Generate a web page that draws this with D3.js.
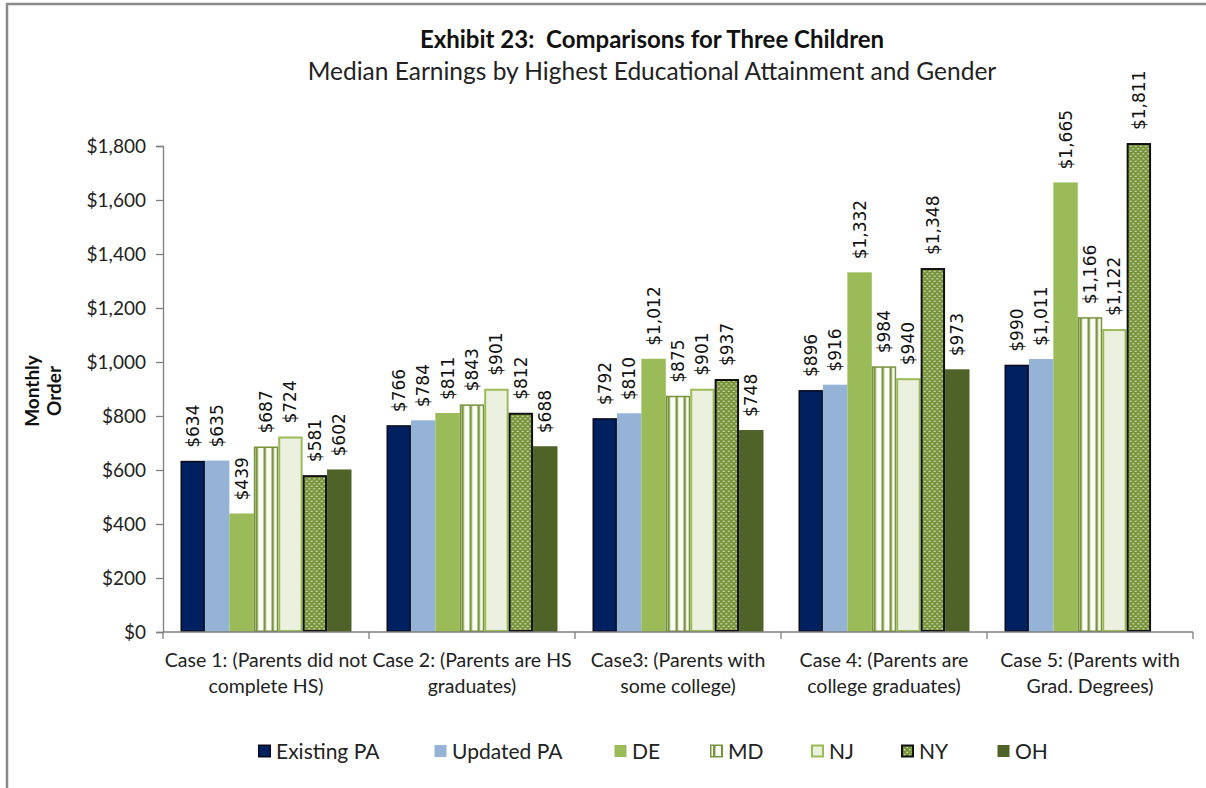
<!DOCTYPE html>
<html>
<head>
<meta charset="utf-8">
<script src="https://cdn.jsdelivr.net/npm/d3@7/dist/d3.min.js"></script>
<style>
  html, body { margin: 0; padding: 0; background: #fff; }
  svg { display: block; }
</style>
</head>
<body>
<svg id="chart" width="1206" height="788"></svg>
<script>
// Categories (two-line axis labels)
const categories = ["case1", "case2", "case3", "case4", "case5"];
const categoryLines = [
  ["Case 1: (Parents did not", "complete HS)"],
  ["Case 2: (Parents are HS", "graduates)"],
  ["Case3: (Parents with", "some college)"],
  ["Case 4: (Parents are", "college graduates)"],
  ["Case 5: (Parents with", "Grad. Degrees)"]
];
const seriesNames = ["Existing PA", "Updated PA", "DE", "MD", "NJ", "NY", "OH"];

// Monthly order values per series, one entry per case (null = no value)
const existingPA = [634, 766, 792, 896, 990];
const updatedPA  = [635, 784, 810, 916, 1011];
const de         = [439, 811, 1012, 1332, 1665];
const md         = [687, 843, 875, 984, 1166];
const nj         = [724, 901, 901, 940, 1122];
const ny         = [581, 812, 937, 1348, 1811];
const oh         = [602, 688, 748, 973, null];

const yTicks = [0, 200, 400, 600, 800, 1000, 1200, 1400, 1600, 1800];

const seriesValues = [existingPA, updatedPA, de, md, nj, ny, oh];

const svg = d3.select("#chart");
const W = 1206, H = 788;
const FONT = "Lato, 'Open Sans', sans-serif";

// outer frame
svg.append("rect").attr("x", 7).attr("y", 4).attr("width", W + 20).attr("height", H + 20)
  .attr("fill", "#fff").attr("stroke", "#8a8a8a").attr("stroke-width", 2.5);

// fill patterns
const defs = svg.append("defs");
const mdPat = defs.append("pattern").attr("id", "pat-md").attr("patternUnits", "userSpaceOnUse")
  .attr("width", 8).attr("height", 8);
mdPat.append("rect").attr("width", 8).attr("height", 8).attr("fill", "#fbfdf6");
mdPat.append("rect").attr("x", 3).attr("width", 2.4).attr("height", 8).attr("fill", "#77933c");

const nyPat = defs.append("pattern").attr("id", "pat-ny").attr("patternUnits", "userSpaceOnUse")
  .attr("width", 5).attr("height", 5);
nyPat.append("rect").attr("width", 5).attr("height", 5).attr("fill", "#77933c");
nyPat.append("circle").attr("cx", 1.25).attr("cy", 1.25).attr("r", 0.85).attr("fill", "#dfeac6");
nyPat.append("circle").attr("cx", 3.75).attr("cy", 3.75).attr("r", 0.85).attr("fill", "#dfeac6");

const styles = [
  { fill: "#002060", stroke: "#0a0a1a", sw: 1.5 },
  { fill: "#95b3d7", stroke: "none", sw: 0 },
  { fill: "#9bbb59", stroke: "none", sw: 0 },
  { fill: "url(#pat-md)", stroke: "#77933c", sw: 1.5 },
  { fill: "#ebf1de", stroke: "#9bbb59", sw: 2 },
  { fill: "url(#pat-ny)", stroke: "#111", sw: 2 },
  { fill: "#4f6228", stroke: "none", sw: 0 }
];

// layout
const plot = { left: 163, right: 1193, top: 146, bottom: 632 };

const x0 = d3.scaleBand().domain(categories).range([plot.left, plot.right])
  .paddingInner(0.17).paddingOuter(0.085);
const x1 = d3.scaleBand().domain(seriesNames).range([0, x0.bandwidth()]).padding(0);
const y = d3.scaleLinear().domain([0, 1800]).range([plot.bottom, plot.top]);

// title
svg.append("text").attr("x", 652).attr("y", 48).attr("text-anchor", "middle")
  .attr("font-family", FONT).attr("font-weight", "bold").attr("font-size", 24)
  .attr("fill", "#111").text("Exhibit 23:\u00a0 Comparisons for Three Children");
svg.append("text").attr("x", 652).attr("y", 80).attr("text-anchor", "middle")
  .attr("font-family", FONT).attr("font-size", 24.5)
  .attr("fill", "#222").text("Median Earnings by Highest Educational Attainment and Gender");

// y axis
const yAxis = d3.axisLeft(y).tickValues(yTicks).tickSize(7).tickPadding(10)
  .tickFormat(d => "$" + d3.format(",")(d));
const gy = svg.append("g").attr("transform", `translate(${plot.left},0)`).call(yAxis);
gy.select(".domain").attr("stroke", "#7f7f7f").attr("stroke-width", 1.3);
gy.selectAll(".tick line").attr("stroke", "#7f7f7f").attr("stroke-width", 1.3);
gy.selectAll(".tick text").attr("font-family", FONT).attr("font-size", 19).attr("fill", "#222");

// y axis title
const yt = svg.append("text").attr("transform", "translate(43,391) rotate(-90)")
  .attr("text-anchor", "middle").attr("font-family", FONT).attr("font-weight", "bold")
  .attr("font-size", 19).attr("fill", "#111");
yt.append("tspan").attr("x", 0).attr("dy", -4).text("Monthly");
yt.append("tspan").attr("x", 0).attr("dy", 22).text("Order");

// bars
const groups = svg.append("g").selectAll("g").data(categories).join("g")
  .attr("transform", d => `translate(${x0(d)},0)`);

groups.each(function (cat, ci) {
  const g = d3.select(this);
  seriesNames.forEach((s, si) => {
    const v = seriesValues[si][ci];
    if (v == null) return;
    const st = styles[si];
    const inset = st.sw / 2;
    g.append("rect")
      .attr("x", x1(s) + inset)
      .attr("y", y(v) + inset)
      .attr("width", x1.bandwidth() - 2 * inset)
      .attr("height", Math.max(0, y(0) - y(v) - 2 * inset))
      .attr("fill", st.fill)
      .attr("stroke", st.stroke)
      .attr("stroke-width", st.sw);
    const cx = x1(s) + x1.bandwidth() / 2;
    g.append("text")
      .attr("transform", `translate(${cx + 6},${y(v) - 13}) rotate(-90)`)
      .attr("font-family", "'DejaVu Sans', sans-serif").attr("font-size", 17)
      .attr("fill", "#111")
      .text("$" + d3.format(",")(v));
  });
});

// x axis
const gx = svg.append("g").attr("transform", `translate(0,${plot.bottom})`);
gx.append("line").attr("x1", plot.left).attr("x2", plot.right)
  .attr("stroke", "#7f7f7f").attr("stroke-width", 1.3);
const edges = categories.map(c => x0(c) - x0.step() * x0.paddingInner() / 2);
edges.push(plot.right);
gx.selectAll(".edge").data(edges).join("line").attr("class", "edge")
  .attr("x1", d => d).attr("x2", d => d).attr("y1", 0).attr("y2", 7)
  .attr("stroke", "#7f7f7f").attr("stroke-width", 1.3);

categories.forEach((c, i) => {
  const cx = x0(c) + x0.bandwidth() / 2;
  const t = gx.append("text").attr("text-anchor", "middle").attr("font-family", FONT)
    .attr("font-size", 19.5).attr("fill", "#222");
  t.append("tspan").attr("x", cx).attr("y", 35).text(categoryLines[i][0]);
  t.append("tspan").attr("x", cx).attr("y", 61).text(categoryLines[i][1]);
});

// legend
const legendX = [258, 434, 614, 710, 811, 901, 997];
const lg = svg.append("g").attr("transform", "translate(0,751)");
seriesNames.forEach((s, i) => {
  const st = styles[i];
  const item = lg.append("g").attr("transform", `translate(${legendX[i]},0)`);
  const sw = Math.max(st.sw, 1);
  item.append("rect").attr("x", sw / 2).attr("y", -6.5 + sw / 2)
    .attr("width", 13 - sw).attr("height", 13 - sw)
    .attr("fill", st.fill).attr("stroke", st.stroke === "none" ? st.fill : st.stroke)
    .attr("stroke-width", st.stroke === "none" ? 0 : st.sw);
  item.append("text").attr("x", 18).attr("y", 7.5).attr("font-family", FONT)
    .attr("font-size", 21).attr("fill", "#222").text(s);
});
</script>
</body>
</html>
